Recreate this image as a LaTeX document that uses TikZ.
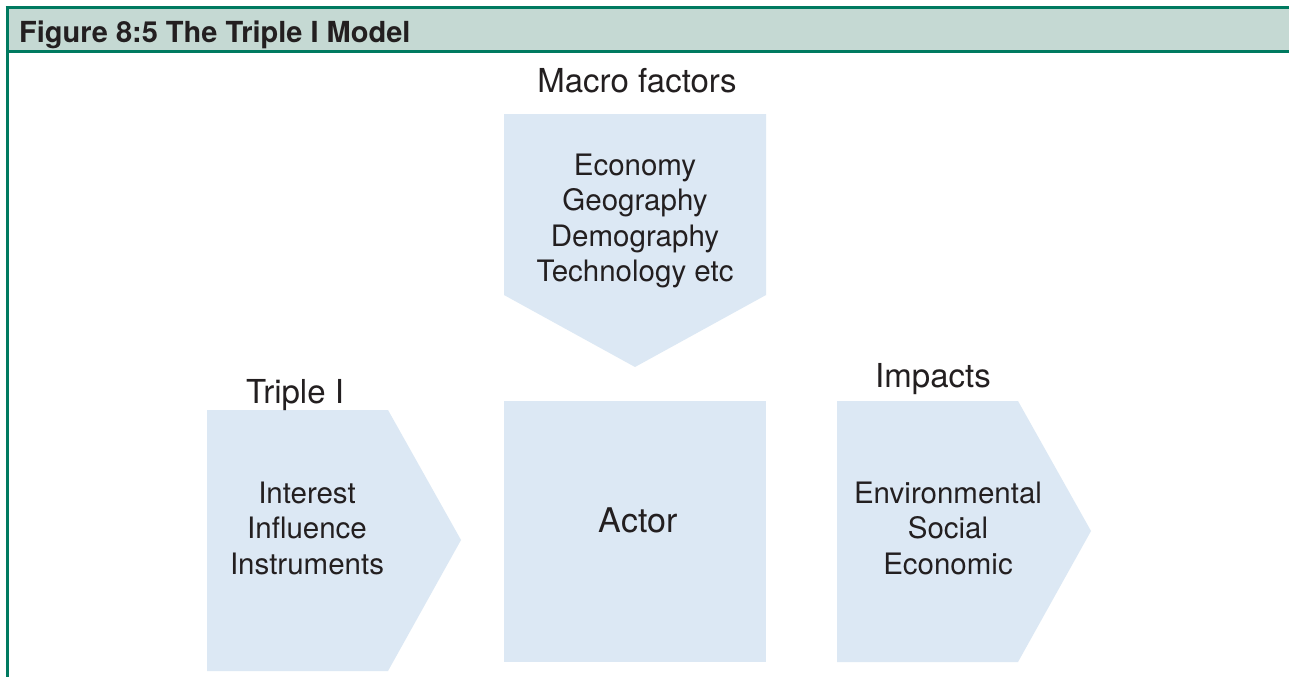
\documentclass[tikz,border=0pt]{standalone}
\usepackage{fontspec}
\setmainfont{TeX Gyre Heros}
\definecolor{teal8}{RGB}{0,122,96}
\definecolor{headfill}{RGB}{197,217,211}
\definecolor{shapefill}{RGB}{220,232,244}
\definecolor{inktext}{RGB}{35,31,32}
\tikzset{
  shapebox/.style={fill=shapefill, draw=none},
  bodytext/.style={text=inktext, align=center, inner sep=0pt,
    font=\fontsize{29.5}{35.5}\selectfont},
  labeltext/.style={text=inktext, inner sep=0pt, font=\fontsize{33}{38}\selectfont},
  rule/.style={draw=teal8, line width=3pt}
}
\begin{document}
\begin{tikzpicture}[x=1pt,y=-1pt]
\useasboundingbox (0,0) rectangle (1289,677);
\fill[white] (0,0) rectangle (1289,677);
% header
\fill[headfill] (7,8) rectangle (1289,52);
\draw[rule] (5.5,8) -- (1289,8);
\draw[rule] (7,52) -- (1289,52);
\draw[rule] (7,6.5) -- (7,677);
\node[anchor=base west, text=inktext, inner sep=0pt, font=\fontsize{29}{34}\selectfont\bfseries] (title) at (19,42) {Figure 8:5 The Triple I Model};
% macro factors pentagon
\path[shapebox] (504,114) -- (766,114) -- (766,295) -- (635,367) -- (504,295) -- cycle;
% triple I arrow
\path[shapebox] (207,410) -- (388,410) -- (461,540) -- (388,671) -- (207,671) -- cycle;
% actor square
\path[shapebox] (504,401) rectangle (766,662);
% impacts arrow
\path[shapebox] (837,401) -- (1018,401) -- (1091,531) -- (1018,662) -- (837,662) -- cycle;
% labels
\node[labeltext] (macrolbl) at (637,81) {Macro factors};
\node[labeltext] (triplelbl) at (295,395) {Triple I};
\node[labeltext] (impactlbl) at (933,379) {Impacts};
\node[bodytext] (macro) at (635,221) {Economy\\Geography\\Demography\\Technology etc};
\node[bodytext] (triple) at (307,528) {Interest\\Influence\\Instruments};
\node[bodytext, font=\fontsize{34}{40}\selectfont] (actor) at (638,520) {Actor};
\node[bodytext] (impacts) at (948,528) {Environmental\\Social\\Economic};
\end{tikzpicture}
\end{document}
